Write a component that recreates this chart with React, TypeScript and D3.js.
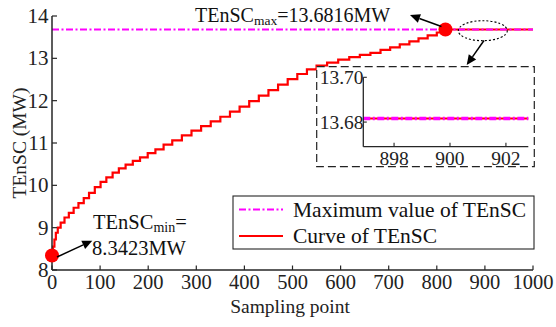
import React from "react";
import * as d3 from "d3";

const stepSamples = [0, 2, 5, 8, 12, 18, 26, 35, 45, 55, 66, 77, 89, 101, 113, 126, 139, 153, 168, 183, 199, 215, 232, 250, 270, 290, 310, 330, 350, 370, 390, 410, 430, 450, 470, 490, 510, 530, 550, 572, 595, 618, 640, 662, 683, 703, 723, 743, 762, 781, 800, 818, 1000];
const stepValues = [8.3423, 8.55, 8.72, 8.88, 9.0, 9.12, 9.24, 9.35, 9.47, 9.58, 9.70, 9.82, 9.96, 10.08, 10.19, 10.30, 10.40, 10.49, 10.58, 10.66, 10.76, 10.85, 10.96, 11.06, 11.18, 11.29, 11.40, 11.51, 11.62, 11.74, 11.86, 11.99, 12.12, 12.25, 12.38, 12.51, 12.63, 12.74, 12.83, 12.90, 12.97, 13.03, 13.08, 13.13, 13.20, 13.26, 13.33, 13.40, 13.47, 13.54, 13.61, 13.6816, 13.6816];
const maxValue = 13.6816;
const maxSample = 818;
const minValue = 8.3423;
const minSample = 0;
const xTicks = [0, 100, 200, 300, 400, 500, 600, 700, 800, 900, 1000];
const yTicks = [8, 9, 10, 11, 12, 13, 14];
const insetXTicks = [898, 900, 902];
const insetYTicks = [13.68, 13.70];
const legendLabels = ["Maximum value of TEnSC", "Curve of TEnSC"];

const FONT = "'Liberation Serif', 'Times New Roman', serif";
const AX = "#262626";

export default function App() {
  const x = d3.scaleLinear().domain([0, 1000]).range([52, 533]);
  const y = d3.scaleLinear().domain([8, 14]).range([270, 16]);
  const ix = d3.scaleLinear().domain([896.9, 902.8]).range([363.3, 528.3]);
  const iy = d3.scaleLinear().domain([13.669, 13.70]).range([146.7, 77.3]);

  const pts: [number, number][] = stepSamples.map((s, i) => [s, stepValues[i]]);
  const line = d3.line<[number, number]>().x(d => x(d[0])).y(d => y(d[1])).curve(d3.curveStepAfter);
  const iline = d3.line<[number, number]>().x(d => ix(d[0])).y(d => iy(d[1])).curve(d3.curveStepAfter);

  const arrow = (x1: number, y1: number, x2: number, y2: number, key: string) => {
    const ang = Math.atan2(y2 - y1, x2 - x1);
    const L = 10, W = 4.5;
    const bx = x2 - L * Math.cos(ang), by = y2 - L * Math.sin(ang);
    const p1 = [bx + W * Math.sin(ang), by - W * Math.cos(ang)];
    const p2 = [bx - W * Math.sin(ang), by + W * Math.cos(ang)];
    return (
      <g key={key}>
        <line x1={x1} y1={y1} x2={bx} y2={by} stroke="#000" strokeWidth={1.5} />
        <polygon points={`${x2},${y2} ${p1[0]},${p1[1]} ${p2[0]},${p2[1]}`} fill="#000" />
      </g>
    );
  };

  return (
    <svg width={556} height={327} style={{ position: "absolute", left: 0, top: 0 }} fontFamily={FONT}>
      <defs>
        <clipPath id="insetClip">
          <rect x={363.3} y={77.3} width={165} height={69.4} />
        </clipPath>
      </defs>
      <rect width={556} height={327} fill="#fff" />

      {/* curve */}
      <path d={line(pts) || ""} fill="none" stroke="#ff0000" strokeWidth={2.2} />
      {/* max line */}
      <line x1={x(0)} x2={x(1000)} y1={y(maxValue)} y2={y(maxValue)} stroke="#ff00ff" strokeWidth={2.2} strokeDasharray="7,2.5,2,2.5" />

      {/* axes */}
      <line x1={x(0)} x2={x(1000)} y1={y(8)} y2={y(8)} stroke={AX} strokeWidth={1.5} />
      <line x1={x(0)} x2={x(0)} y1={y(8)} y2={y(14)} stroke={AX} strokeWidth={1.5} />
      {xTicks.map(t => (
        <g key={"xt" + t}>
          <line x1={x(t)} x2={x(t)} y1={y(8)} y2={y(8) - 4.5} stroke={AX} strokeWidth={1.2} />
          <text x={x(t)} y={289} textAnchor="middle" fontSize={20.5} fill="#222">{t}</text>
        </g>
      ))}
      {yTicks.map(t => (
        <g key={"yt" + t}>
          <line x1={x(0)} x2={x(0) + 5} y1={y(t)} y2={y(t)} stroke={AX} strokeWidth={1.2} />
          <text x={48.5} y={y(t) + 7} textAnchor="end" fontSize={21} fill="#222">{t}</text>
        </g>
      ))}
      <text x={290} y={313} textAnchor="middle" fontSize={19.5} fill="#222">Sampling point</text>
      <text transform={`translate(26,143) rotate(-90)`} textAnchor="middle" fontSize={19.5} fill="#222">TEnSC (MW)</text>

      {/* dots */}
      <circle cx={x(maxSample)} cy={y(maxValue)} r={7} fill="#ff0000" />
      <circle cx={x(minSample)} cy={y(minValue)} r={7} fill="#ff0000" />

      {/* annotations */}
      <text x={195} y={22} fontSize={20} fill="#111">
        TEnSC<tspan fontSize={13.5} dy={3}>max</tspan><tspan dy={-3}>=13.6816MW</tspan>
      </text>
      {arrow(x(maxSample) - 4, y(maxValue) - 3, 410, 15, "a1")}
      <text x={93} y={229} fontSize={20.5} fill="#111">
        TEnSC<tspan fontSize={14} dy={3}>min</tspan><tspan dy={-3}>=</tspan>
      </text>
      <text x={92} y={255} fontSize={20.5} fill="#111">8.3423MW</text>
      {arrow(x(minSample) + 5, y(minValue) + 1.5, 92.3, 240.7, "a2")}

      {/* ellipse and arrow to inset */}
      <ellipse cx={482.8} cy={30.7} rx={24.5} ry={10} fill="none" stroke="#000" strokeWidth={1.1} strokeDasharray="2,2" />
      {arrow(484, 40.5, 466.7, 65, "a3")}

      {/* inset */}
      <rect x={316.7} y={66.7} width={217.6} height={100} fill="#fff" stroke="#222" strokeWidth={1.2} strokeDasharray="8,4" />
      <g clipPath="url(#insetClip)">
        <path d={iline(pts) || ""} fill="none" stroke="#ff0000" strokeWidth={2} />
      </g>
      <line x1={ix(896.9)} x2={ix(902.8)} y1={iy(maxValue)} y2={iy(maxValue)} stroke="#ff00ff" strokeWidth={3.5} strokeDasharray="7,2.5,2,2.5" />
      <line x1={ix(896.9)} x2={ix(902.8)} y1={iy(13.669)} y2={iy(13.669)} stroke={AX} strokeWidth={1.3} />
      <line x1={ix(896.9)} x2={ix(896.9)} y1={iy(13.669)} y2={iy(13.70)} stroke={AX} strokeWidth={1.3} />
      {insetXTicks.map(t => (
        <g key={"ixt" + t}>
          <line x1={ix(t)} x2={ix(t)} y1={iy(13.669)} y2={iy(13.669) - 4} stroke={AX} strokeWidth={1.1} />
          <text x={ix(t)} y={165} textAnchor="middle" fontSize={19.5} fill="#222">{t}</text>
        </g>
      ))}
      {insetYTicks.map(t => (
        <g key={"iyt" + t}>
          <line x1={ix(896.9)} x2={ix(896.9) + 3.5} y1={iy(t)} y2={iy(t)} stroke={AX} strokeWidth={1.1} />
          <text x={363.5} y={iy(t) + 6.5} textAnchor="end" fontSize={19.5} fill="#222">{t.toFixed(2)}</text>
        </g>
      ))}

      {/* legend */}
      <rect x={233} y={196} width={301} height={53} fill="#fff" stroke={AX} strokeWidth={1.1} />
      <line x1={239} x2={283} y1={209.5} y2={209.5} stroke="#ff00ff" strokeWidth={2.2} strokeDasharray="7,2.5,2,2.5" />
      <line x1={239} x2={283} y1={236} y2={236} stroke="#ff0000" strokeWidth={2.2} />
      <text x={293} y={216.5} fontSize={21.5} fill="#111">{legendLabels[0]}</text>
      <text x={293} y={243} fontSize={21.5} fill="#111">{legendLabels[1]}</text>
    </svg>
  );
}
